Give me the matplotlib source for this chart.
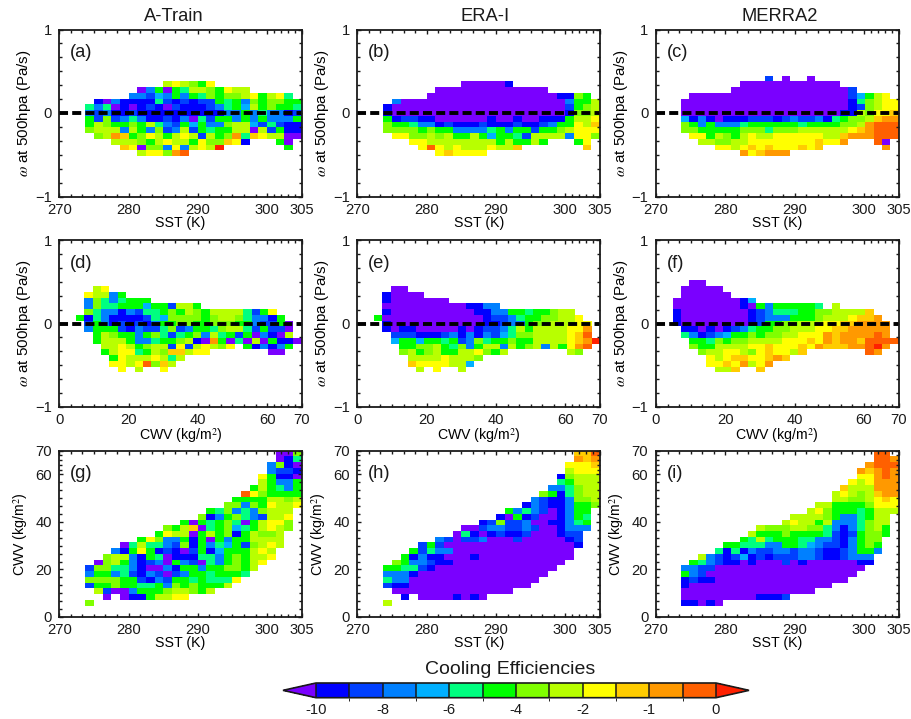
import numpy as np
import matplotlib
matplotlib.use("Agg")
import matplotlib.pyplot as plt
from matplotlib.colors import ListedColormap, BoundaryNorm

plt.rcParams['font.family'] = ['Liberation Sans', 'DejaVu Sans']
plt.rcParams['mathtext.fontset'] = 'stix'
plt.rcParams['lines.scale_dashes'] = False

# colour classes
BOUNDS = [-10, -9, -8, -7, -6, -5, -4, -3, -2, -1.5, -1, -0.5, 0]
COLORS = ['#0000ff', '#0040ff', '#0080ff', '#00b0ff', '#00ff80', '#00ff00',
          '#80ff00', '#b8ff00', '#ffff00', '#ffcc00', '#ff9900', '#ff6000']
UNDER = '#7a00ff'
OVER = '#ff2000'
CB_LABELS = {-10: '-10', -8: '-8', -6: '-6', -4: '-4', -2: '-2', -1: '-1', 0: '0'}
# class code -> representative value
VALUE = {'P': -10.5, '0': -9.5, '1': -8.5, '2': -7.5, '3': -6.5, '4': -5.5, '5': -4.5,
         '6': -3.5, '7': -2.5, '8': -1.75, '9': -1.25, 'A': -0.75, 'B': -0.25, 'R': 0.5}

# Each row: row bin -> (first column bin, class codes). '.' = no data
A = {5: (12, "787658"),
     4: (9, "P25P5 47765 877"),
     3: (8, "22132 52546 56678 5784"),
     2: (4, "0P200 00410 10115 45265 6655"),
     1: (3, "424P0 P010P 10001 24537 56554"),
     0: (3, "21200 10000 00000 02252 42201"),
     -1: (3, "51612 42001 02P41 55252 52225"),
     -2: (3, "57655 65742 15352 26773 14100"),
     -3: (3, "67772 75261 27154 5577P 71500"),
     -4: (4, "67A95 68757 87175 6A498 77PP"),
     -5: (6, "77765 78775 86698 0...5 P"),
     -6: (7, "98P66 28278 7R... ....5"),
     -7: (9, "78 86AB")}
B = {5: (12, "PPPPP0"),
     4: (9, "P" * 13),
     3: (8, "P" * 15 + "0065"),
     2: (4, "2" + "P" * 19 + "2557"),
     1: (3, "0" + "P" * 20 + "1567"),
     0: (3, "0" + "P" * 20 + "0667"),
     -1: (3, "50110 0PPPP PP0PP 0PP00 05778"),
     -2: (3, "65542 20100 01000 10012 55879"),
     -3: (3, "66665 65522 22452 55155 67888"),
     -4: (4, "88667 67557 53554 17777 2886"),
     -5: (6, "88777 77777 57557 5...5 8"),
     -6: (7, "8B878 77787 79... ....9"),
     -7: (9, "898888")}
C = {6: (13, "1.P..P"),
     5: (10, "P" * 12),
     4: (9, "P" * 14 + "1"),
     3: (4, "P" * 19 + "13578"),
     2: (3, "P" * 20 + "046788"),
     1: (3, "P" * 20 + "016788"),
     0: (3, "P" * 19 + "007688" + "9"),
     -1: (3, "3020P 00011 10121 12045 6679A A"),
     -2: (3, "65252 22455 55554 55556 67ABB B"),
     -3: (3, "66555 55666 46667 77777 89ABB B"),
     -4: (4, "8857 65787 78888 88779 AAABB B"),
     -5: (5, "776 67788 88888 8988A ...BP"),
     -6: (7, "8 87898 98889 89... ....A"),
     -7: (10, "A89AAA")}
D = {6: (4, "78"),
     5: (3, "87725"),
     4: (3, "26424555"),
     3: (3, "26445 55355 1775"),
     2: (3, "64220 21445 65765 77774 158"),
     1: (2, "504200 00143 66665 67764 2205"),
     0: (3, "15201 01025 56655 66655 2115P"),
     -1: (3, "25551 02114 61255 46774 1511P"),
     -2: (4, "5765 52564 14562 74515 P20P7"),
     -3: (4, "5777 52245 5670P A5P4P 7P500 P"),
     -4: (5, "778 75677 18178 768.5 02025"),
     -5: (5, "578 84576 99788 ..... ..PP"),
     -6: (6, "58 77787 47"),
     -7: (6, "88 78B69 7"),
     -8: (7, "8.7..8")}
E = {6: (4, "PP"),
     5: (3, "0PPPP"),
     4: (3, "0PPPPPPP"),
     3: (3, "P" * 10 + "0022"),
     2: (3, "0" + "P" * 10 + "00225 54556 77"),
     1: (2, "5" + "P" * 12 + "01124 55667 78"),
     0: (3, "0" + "P" * 11 + "00122 56677 788"),
     -1: (3, "0P00P PPPP0 P0112 47577 7788A"),
     -2: (4, "1110 00120 20213 46677 7789B"),
     -3: (4, "3553 55451 26455 65577 7789A R"),
     -4: (5, "556 67546 25772 75672 758AB"),
     -5: (5, "675 67557 78657 ..... ..76"),
     -6: (6, "77 77877 76"),
     -7: (6, "98 88877 3"),
     -8: (7, "7.8..7")}
F = {7: (4, "PP"),
     6: (3, "PPPPP"),
     5: (3, "PPPPPP"),
     4: (2, "P" * 8 + "03"),
     3: (2, "P" * 8 + "0P525 55554 .7"),
     2: (2, "0" + "P" * 8 + "01244 45566 77779"),
     1: (2, "0" + "P" * 8 + "01222 55567 77899 A"),
     0: (2, "0" + "P" * 8 + "01556 67778 899AA AA"),
     -1: (3, "00P0P 01245 56677 78899 AAAAA"),
     -2: (3, "42012 35565 66778 88A9A AAABA"),
     -3: (4, "5546 56677 77888 98A9A A9BBB B"),
     -4: (4, "6557 77788 98889 8A999 AABRA"),
     -5: (5, "677 88768 98879 ..... ..BA"),
     -6: (6, "87 89988 9A9"),
     -7: (6, "88 98A78 A"),
     -8: (7, "779..9")}
G = {28: (25, "PP6"), 27: (25, "P04"), 26: (24, "260P"), 25: (24, "2110"),
     24: (23, "8500P"), 23: (23, "75225"), 22: (22, "575425"), 21: (21, "B865555"),
     20: (20, "55557767"), 19: (19, "662658778"),
     18: (17, "54624 26777"),
     17: (16, "60256 42177 8"),
     16: (14, "5P545 64P57 886"),
     15: (12, "6579P 45634 57876"),
     14: (11, "5877P 57560 57667"),
     13: (9, "58622 505P5 25577 77"),
     12: (7, "P4744 21605 24351 6787"),
     11: (6, "20585 010P1 50355 5787"),
     10: (5, "67720 54P00 04425 65778"),
     9: (4, "P6752 012P5 21P42 56578"),
     8: (3, "16644 20PP2 05525 56657"),
     7: (3, "25524 1021P 12554 5554"),
     6: (3, "66665 51021 55454 448"),
     5: (3, "15565 54452 65655 57"),
     4: (4, "71PP2 55567 7657"),
     3: (5, "P.P00 57788"),
     2: (3, "6")}
H = {28: (25, "99B"), 27: (25, "A9A"), 26: (24, "8889"), 25: (24, "7888"),
     24: (23, "06777"), 23: (23, "45777"), 22: (22, "224677"), 21: (21, "650 46 77"),
     20: (20, "21002 667"), 19: (19, "02100 2556"),
     18: (17, "52421 P0255"), 17: (16, "0P501 PP0 254"),
     16: (14, "01611 2PP00 245"), 15: (12, "PP122 112 1PP0 222"),
     14: (11, "P40P0 10 01P PP011"),
     13: (9, "21P11 2PPP1 PPPPP 01"),
     12: (7, "151" + "P" * 15 + "0"),
     11: (6, "51422" + "P" * 14),
     10: (5, "50200 PPP0P" + "P" * 10),
     9: (4, "6522100" + "P" * 13),
     8: (3, "554410" + "P" * 14),
     7: (3, "2220P" + "P" * 14),
     6: (3, "422" + "P" * 15),
     5: (3, "100" + "P" * 14),
     4: (4, "P" * 14),
     3: (5, "0.PPP P0P0P"),
     2: (3, "7")}
I = {28: (26, "BB"), 27: (26, "BBA"), 26: (25, "ABBB"), 25: (24, "A9ABA"), 24: (24, "88ABA"),
     23: (23, "878AAA"), 22: (22, "9777AAA"), 21: (21, "78 76 79AA"), 20: (21, "77 66 7898"),
     19: (19, "7755 556888"), 18: (18, "78655 54577 7"),
     17: (16, "77 77652 24577"), 16: (15, "787 75722 24677"),
     15: (12, "7 66677 66420 24675"), 14: (11, "75 55655 55410 15665"),
     13: (10, "547 45554 42210 2566"), 12: (8, "55444 22554 32110 2565"),
     11: (7, "4 04021 12212 21001 2552"), 10: (5, "721 01301 01112 21001 222"),
     9: (4, "54210 0P0PP P1P0P PPPPP 00"),
     8: (3, "2211" + "P" * 18), 7: (3, "521" + "P" * 18), 6: (3, "0100" + "P" * 16),
     5: (3, "0" + "P" * 17), 4: (3, "P" * 16), 3: (3, "P" * 9 + "0001"), 2: (3, "00P0P")}

TITLES = ['A-Train', 'ERA-I', 'MERRA2']
TITLE_CENTERS = [173.6, 485.0, 780.0]
PANEL_LETTERS = ['(a)', '(b)', '(c)', '(d)', '(e)', '(f)', '(g)', '(h)', '(i)']
PANELS = [A, B, C, D, E, F, G, H, I]
N_COLS = [28, 28, 29, 29, 29, 29, 28, 28, 29]
X_KIND = ['sst', 'sst', 'sst', 'cwv', 'cwv', 'cwv', 'sst', 'sst', 'sst']
Y_KIND = ['w', 'w', 'w', 'w', 'w', 'w', 'cwv', 'cwv', 'cwv']
SST_TICKS = [270, 280, 290, 300, 305]
CWV_TICKS = [0, 20, 40, 60, 70]
W_TICKS = [-1, 0, 1]
N_ROWS = 29

W, H_PX = 911, 719
LEFTS = [(59.3, 301.7), (357.3, 600.0), (656.0, 898.7)]
ROWS = [(29.5, 196.5), (240.0, 407.0), (450.7, 617.0)]
YLABEL_DX = [-35, -35, -39]
XLABEL_DY = {'sst': 26.5, 'cwv': 29.0}
INK = '#1a1a1a'

cmap = ListedColormap(COLORS)
cmap.set_under(UNDER)
cmap.set_over(OVER)
cmap.set_bad((1, 1, 1, 0))
norm = BoundaryNorm(BOUNDS, cmap.N)


def to_grid(rows, ncols, offset):
    grid = np.full((N_ROWS, ncols), np.nan)
    for r, (start, codes) in rows.items():
        codes = codes.replace(' ', '')
        for k, c in enumerate(codes):
            if c != '.' and start + k < ncols:
                grid[r + offset, start + k] = VALUE[c]
    return np.ma.masked_invalid(grid)


def sst_minor():
    return list(np.arange(270, 300, 10 / 6)) + [301, 302, 303, 304]


def cwv_minor():
    return list(np.arange(0, 60, 20 / 6)) + [62, 64, 66, 68]


fig = plt.figure(figsize=(W / 100, H_PX / 100), dpi=100)
for i, rows in enumerate(PANELS):
    r, c = divmod(i, 3)
    x0, x1 = LEFTS[c]
    y0, y1 = ROWS[r]
    ax = fig.add_axes([x0 / W, 1 - y1 / H_PX, (x1 - x0) / W, (y1 - y0) / H_PX])
    ncols = N_COLS[i]
    if X_KIND[i] == 'sst':
        xe = np.linspace(270, 305, ncols + 1)
        ax.set_xlim(270, 305)
        ax.set_xticks(SST_TICKS)
        ax.set_xticks(sst_minor(), minor=True)
        ax.set_xlabel('SST (K)', fontsize=10.2)
    else:
        xe = np.linspace(0, 70, ncols + 1)
        ax.set_xlim(0, 70)
        ax.set_xticks(CWV_TICKS)
        ax.set_xticks(cwv_minor(), minor=True)
        ax.set_xlabel('CWV (kg/m$^2$)', fontsize=10.2)
    if Y_KIND[i] == 'w':
        ye = np.linspace(-1, 1, N_ROWS + 1)
        grid = to_grid(rows, ncols, 14)
        ax.set_ylim(-1, 1)
        ax.set_yticks(W_TICKS)
        ax.set_yticks(np.arange(-1, 1.001, 1 / 6), minor=True)
        ax.set_ylabel(r'$\omega$ at 500hpa (Pa/s)', fontsize=10.9)
    else:
        ye = np.linspace(0, 70, N_ROWS + 1)
        grid = to_grid(rows, ncols, 0)
        ax.set_ylim(0, 70)
        ax.set_yticks(CWV_TICKS)
        ax.set_yticks(cwv_minor(), minor=True)
        ax.set_ylabel('CWV (kg/m$^2$)', fontsize=10.2)
    ax.pcolormesh(xe, ye, grid, cmap=cmap, norm=norm, shading='flat', zorder=1)
    if Y_KIND[i] == 'w':
        ax.axhline(0, color='black', lw=2.8, dashes=(6.5, 3.0), zorder=3)
    ax.tick_params(which='major', direction='in', top=True, right=True, length=3.2, width=1.0,
                   labelsize=10.6, color=INK, labelcolor=INK)
    ax.tick_params(axis='x', which='major', pad=4.5)
    ax.tick_params(axis='y', which='major', pad=5.5)
    ax.tick_params(which='minor', direction='in', top=True, right=True, length=2.0, width=1.0, color=INK)
    for s in ax.spines.values():
        s.set_linewidth(1.3)
        s.set_color(INK)
        s.set_zorder(5)
    ax.xaxis.set_label_coords(0.5, -XLABEL_DY[X_KIND[i]] / 167)
    ax.xaxis.label.set_va('center')
    ax.yaxis.set_label_coords(YLABEL_DX[r] / (x1 - x0), 0.5)
    ax.yaxis.label.set_va('center')
    ax.text(10.5 / 242.4, 0.86, PANEL_LETTERS[i], transform=ax.transAxes, fontsize=13.2,
            va='center', ha='left', color=INK)
    if r == 0:
        ax.set_title(TITLES[c], fontsize=13.2, pad=6, color=INK,
                     x=(TITLE_CENTERS[c] - x0) / (x1 - x0))

# colour bar
cax = fig.add_axes([283 / W, 1 - 697.7 / H_PX, 466 / W, 14.7 / H_PX])
sm = matplotlib.cm.ScalarMappable(norm=norm, cmap=cmap)
cb = fig.colorbar(sm, cax=cax, orientation='horizontal', extend='both', spacing='uniform',
                  extendfrac=33 / 400, drawedges=True, ticks=list(CB_LABELS))
cb.set_ticklabels(list(CB_LABELS.values()))
cb.ax.tick_params(length=0, labelsize=10.6, pad=3.5, labelcolor=INK)
cb.outline.set_linewidth(1.2)
cb.outline.set_edgecolor(INK)
cb.dividers.set_linewidth(1.1)
cb.dividers.set_color(INK)
fig.text(510 / W, 1 - 669 / H_PX, 'Cooling Efficiencies', fontsize=14, ha='center', va='center', color=INK)

fig.savefig('out.png', dpi=100)
